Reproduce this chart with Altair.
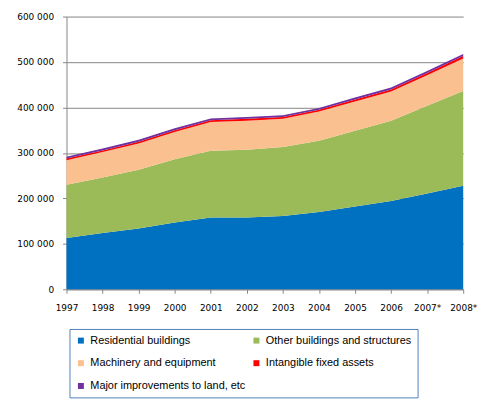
import altair as alt
import pandas as pd

years = ["1997", "1998", "1999", "2000", "2001", "2002", "2003", "2004", "2005", "2006", "2007*", "2008*"]
series = ["Residential buildings", "Other buildings and structures", "Machinery and equipment",
          "Intangible fixed assets", "Major improvements to land, etc"]
colors = ["#0070c0", "#9bbb59", "#fac090", "#ff0000", "#7030a0"]
# legend entries are laid out column by column
legend_order = [0, 2, 4, 1, 3]

residential = [113000, 124000, 134000, 147000, 158000, 158000, 161000, 170000, 182000, 194000, 211000, 228000]
other_buildings = [117000, 122000, 129000, 139000, 147000, 149000, 152000, 157000, 167000, 177000, 193000, 208000]
machinery = [54000, 56000, 58000, 60000, 63000, 64000, 62000, 64000, 64000, 64000, 67000, 72000]
intangible = [3500, 3500, 3500, 4000, 4000, 4000, 4000, 4000, 4500, 4500, 5000, 5500]
improvements = [4000, 4500, 4500, 4500, 4000, 4000, 4000, 4000, 4500, 4500, 4500, 4000]

values = [residential, other_buildings, machinery, intangible, improvements]
rows = []
for i, (name, vals) in enumerate(zip(series, values)):
    for y, v in zip(years, vals):
        rows.append({"year": y, "series": name, "value": v, "idx": i})
df = pd.DataFrame(rows)

dom = [series[i] for i in legend_order]
rng = [colors[i] for i in legend_order]

chart = alt.Chart(df).mark_area(opacity=1).encode(
    x=alt.X("year:O", sort=years, scale=alt.Scale(padding=0),
            axis=alt.Axis(title=None, labelAngle=0, tickSize=4, labelPadding=10,
                          domainColor="#868686", tickColor="#868686", grid=False,
                          labelFont="DejaVu Sans", labelFontSize=9, labelColor="#000000")),
    y=alt.Y("value:Q", stack="zero", scale=alt.Scale(domain=[0, 600000]),
            axis=alt.Axis(title=None, values=[0, 100000, 200000, 300000, 400000, 500000, 600000],
                          labelExpr="replace(format(datum.value, ','), ',', ' ')",
                          tickSize=4, labelPadding=9, domainColor="#868686", tickColor="#868686",
                          gridColor="#868686", labelFont="DejaVu Sans", labelFontSize=9,
                          labelColor="#000000")),
    color=alt.Color("series:N", scale=alt.Scale(domain=dom, range=rng),
                    legend=alt.Legend(title=None, orient="none", legendX=3, legendY=315,
                                      columns=2, symbolType="square", symbolSize=36,
                                      symbolStrokeWidth=0, labelOffset=4, columnPadding=5,
                                      rowPadding=11, padding=6, strokeColor="#4f81bd",
                                      labelFont="Liberation Sans", labelFontSize=11,
                                      labelColor="#000000", labelLimit=300)),
    order=alt.Order("idx:Q", sort="ascending"),
).properties(
    width=400, height=275,
    autosize=alt.AutoSizeParams(type="none"),
    padding={"left": 59, "top": 7, "right": 25, "bottom": 110},
).configure_view(stroke=None).configure_axisY(domain=True)

chart.save("out.html", embed_options={"renderer": "svg", "actions": False})
